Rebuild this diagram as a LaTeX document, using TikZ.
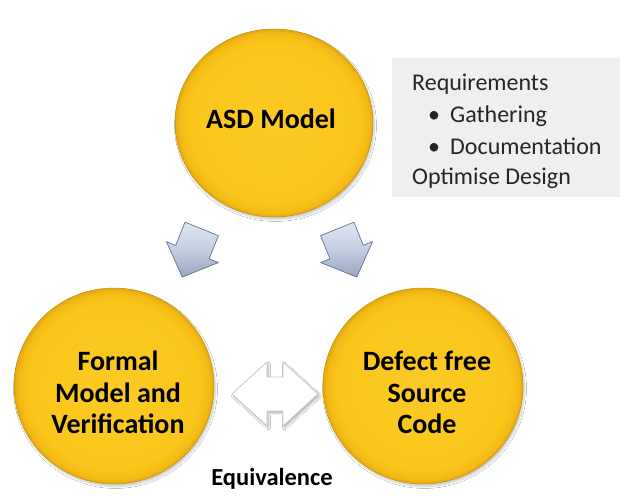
\documentclass[tikz,border=0pt]{standalone}
\usepackage{fontspec}
\setmainfont{Carlito}
\usetikzlibrary{shapes.geometric,shadows.blur}
\definecolor{gcenter}{HTML}{FCCA24}
\definecolor{gmid}{HTML}{FAC61A}
\definecolor{gedge}{HTML}{F3B915}
\definecolor{grim}{HTML}{E2A80E}
\definecolor{gline}{HTML}{BF9510}
\definecolor{boxgray}{HTML}{EFEFEF}
\definecolor{listtxt}{HTML}{262626}
\definecolor{arrlight}{HTML}{E0E7F2}
\definecolor{arrmid}{HTML}{C3CEE2}
\definecolor{arrdark}{HTML}{97A5BF}
\definecolor{arredge}{HTML}{66738F}
\pgfdeclareradialshading{goldball}{\pgfpoint{0bp}{0bp}}{color(0bp)=(gcenter); color(21.5bp)=(gmid); color(24bp)=(gedge); color(25bp)=(grim); color(50bp)=(grim)}
\begin{document}
\begin{tikzpicture}[x=1pt,y=-1pt,
  ball/.style={ellipse, shading=goldball, draw=gline, line width=0.5pt, inner sep=0,
    blur shadow={shadow xshift=1.5pt, shadow yshift=-2.5pt, shadow blur steps=6, shadow opacity=20}},
  balltext/.style={font=\fontsize{28}{32}\selectfont\bfseries, anchor=base, inner sep=0, text=black},
  listtext/.style={font=\fontsize{24}{29}\selectfont, anchor=base west, inner sep=0, text=listtxt},
  blockarrow/.style={top color=arrlight, bottom color=arrdark, middle color=arrmid, draw=arredge, line width=0.7pt, line join=round},
  eqarrow/.style={fill=white, draw=black!22, line width=0.8pt, line join=round,
    blur shadow={shadow xshift=1.5pt, shadow yshift=-2pt, shadow blur steps=5, shadow opacity=30}}
]
\useasboundingbox (0,0) rectangle (620,495);
\fill[white] (0,0) rectangle (620,495);

% requirements box
\node[fill=boxgray, minimum width=228pt, minimum height=139pt, anchor=north west, inner sep=0] (req) at (392,58) {};
\node[listtext] (r1) at (412,90) {Requirements};
\node[listtext] (b1) at (428,122) {•};
\node[listtext] (r2) at (450,122) {Gathering};
\node[listtext] (b2) at (428,154) {•};
\node[listtext] (r3) at (450,154) {Documentation};
\node[listtext] (r4) at (412,184) {Optimise Design};

% circles
\node[ball, minimum width=198pt, minimum height=188pt] (asd) at (274,123) {};
\node[balltext] (asdt) at (271,128) {ASD Model};

\node[ball, minimum width=200pt, minimum height=196pt] (formal) at (114,386) {};
\node[balltext] (f1) at (118,370) {Formal};
\node[balltext] (f2) at (118,402) {Model and};
\node[balltext] (f3) at (118,433) {Verification};

\node[ball, minimum width=200pt, minimum height=196pt] (code) at (423,386) {};
\node[balltext] (c1) at (427,370) {Defect free};
\node[balltext] (c2) at (427,402) {Source};
\node[balltext] (c3) at (427,433) {Code};

% block arrows
\coordinate (la) at (192,253);
\coordinate (ra) at (347,253);
\begin{scope}[shift={(la)}, rotate=248]
  \draw[blockarrow] (-26,-18) -- (-1,-18) -- (-1,-28) -- (26,0) -- (-1,28) -- (-1,18) -- (-26,18) -- cycle;
\end{scope}
\begin{scope}[shift={(ra)}, rotate=-68]
  \draw[blockarrow] (-26,-18) -- (-1,-18) -- (-1,-28) -- (26,0) -- (-1,28) -- (-1,18) -- (-26,18) -- cycle;
\end{scope}

% equivalence double arrow
\coordinate (eqL) at (232,394);
\coordinate (eqR) at (318,394);
\draw[eqarrow] (eqL) -- (267,362) -- (267,377) -- (283,377) -- (283,362) -- (eqR)
  -- (283,426) -- (283,411) -- (267,411) -- (267,426) -- cycle;
\node[font=\fontsize{24.5}{28}\selectfont\bfseries, anchor=base, inner sep=0] (eq) at (272,485) {Equivalence};
\end{tikzpicture}
\end{document}
